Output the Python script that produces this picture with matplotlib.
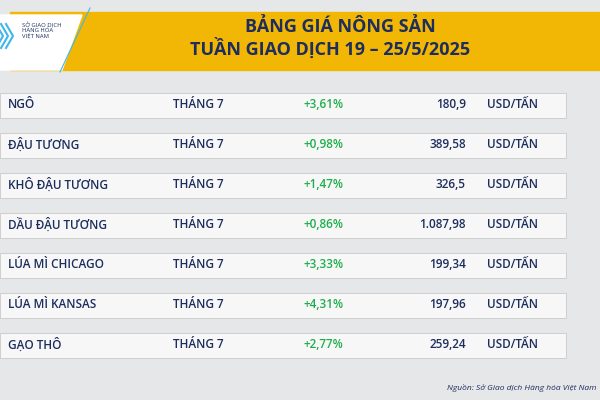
import matplotlib.pyplot as plt
from matplotlib.patches import Rectangle, Polygon

names = ['NGÔ', 'ĐẬU TƯƠNG', 'KHÔ ĐẬU TƯƠNG', 'DẦU ĐẬU TƯƠNG', 'LÚA MÌ CHICAGO', 'LÚA MÌ KANSAS', 'GẠO THÔ']
months = ['THÁNG 7'] * 7
changes = ['+3,61%', '+0,98%', '+1,47%', '+0,86%', '+3,33%', '+4,31%', '+2,77%']
prices = ['180,9', '389,58', '326,5', '1.087,98', '199,34', '197,96', '259,24']
units = ['USD/TẤN'] * 7

navy = '#1c2d5e'
green = '#1fae4b'
yellow = '#f2b705'

plt.rcParams['font.family'] = ['Open Sans', 'DejaVu Sans']

fig = plt.figure(figsize=(6, 4), dpi=100)
fig.patch.set_facecolor('#e6e7e9')
ax = fig.add_axes([0, 0, 1, 1])
ax.set_xlim(0, 600)
ax.set_ylim(400, 0)
ax.axis('off')

# header
ax.add_patch(Rectangle((10, 12), 590, 58, color=yellow, zorder=1))
ax.add_patch(Polygon([(0, 15), (82, 15), (62, 70), (0, 70)], color='white', zorder=2))
ax.plot([60, 90], [72, 8], color='#3fb7e8', lw=0.8, zorder=3)
ax.text(22, 30, 'SỞ GIAO DỊCH\nHÀNG HÓA\nVIỆT NAM', fontsize=4.2, color=navy,
        va='center', ha='left', linespacing=0.95, zorder=3)
for dx in (0, 5, 10):
    ax.plot([dx - 4, dx + 3, dx - 4], [24, 36, 48], color='#3fb7e8', lw=1.5, zorder=3)
ax.text(340, 27, 'BẢNG GIÁ NÔNG SẢN', fontsize=13, fontweight='bold', color=navy,
        ha='center', va='center', zorder=3)
ax.text(330, 48, 'TUẦN GIAO DỊCH 19 – 25/5/2025', fontsize=13, fontweight='bold', color=navy,
        ha='center', va='center', zorder=3)

# rows
for i in range(len(names)):
    y = 105 + i * 40
    ax.add_patch(Rectangle((0, y - 12), 566, 25, facecolor='#f7f7f7', edgecolor='#c9c9c9', lw=0.6, zorder=1))
    ax.text(8, y, names[i], fontsize=8.5, fontweight='semibold', color=navy, va='center')
    ax.text(173, y, months[i], fontsize=8.5, fontweight='semibold', color=navy, va='center')
    ax.text(303, y, changes[i], fontsize=8.5, fontweight='semibold', color=green, va='center')
    ax.text(466, y, prices[i], fontsize=8.5, fontweight='semibold', color=navy, va='center', ha='right')
    ax.text(487, y, units[i], fontsize=8.5, fontweight='semibold', color=navy, va='center')

ax.text(596, 388, 'Nguồn: Sở Giao dịch Hàng hóa Việt Nam', fontsize=6, style='italic',
        color=navy, va='center', ha='right')

fig.savefig('out.png', dpi=100)
